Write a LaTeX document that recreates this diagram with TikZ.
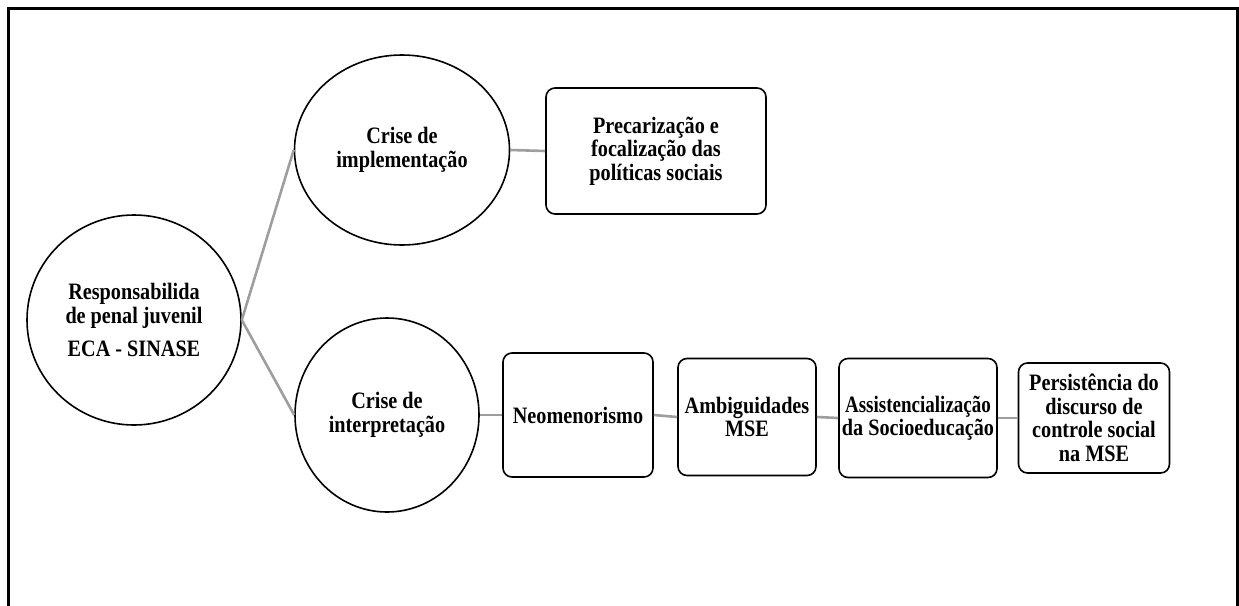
\documentclass[tikz,border=0pt]{standalone}
\usepackage{fontspec}
\setmainfont{Liberation Serif}[FakeStretch=0.86]
\usetikzlibrary{shapes.geometric}
\tikzset{
  bub/.style={ellipse, draw=black, line width=1.6pt, inner sep=0pt, align=center, font=\lbl},
  rbox/.style={rectangle, rounded corners=9pt, draw=black, line width=1.6pt, inner sep=0pt, align=center, font=\lbl},
  link/.style={draw=black!38, line width=2.6pt}
}
\newcommand{\lbl}{\bfseries\fontsize{23.5}{23.5}\selectfont}
\begin{document}
\begin{tikzpicture}[x=1pt,y=-1pt]
\useasboundingbox (0,0) rectangle (1239,605);
\draw[line width=3pt] (8,8) rectangle (1237,640);
\node[bub, minimum width=214pt, minimum height=210pt] (root) at (134,320)
  {Responsabilida\\de penal juvenil\\[10pt]ECA - SINASE};
\node[bub, minimum width=215pt, minimum height=190pt] (impl) at (402,150)
  {Crise de\\implementação};
\node[bub, minimum width=184pt, minimum height=194pt] (interp) at (387,415)
  {Crise de\\interpretação};
\node[rbox, minimum width=220pt, minimum height=126pt] (prec) at (656,151)
  {Precarização e\\focalização das\\políticas sociais};
\node[rbox, minimum width=150pt, minimum height=124pt] (neo) at (578,415)
  {Neomenorismo};
\node[rbox, minimum width=138pt, minimum height=117pt] (amb) at (747,417)
  {Ambiguidades\\MSE};
\node[rbox, minimum width=158pt, minimum height=119pt] (ass) at (918,418)
  {\addfontfeature{FakeStretch=0.81}Assistencialização\\da Socioeducação};
\node[rbox, minimum width=151pt, minimum height=110pt] (pers) at (1094,418)
  {Persistência do\\discurso de\\controle social\\na MSE};
\draw[link] (root.east) -- (impl.west);
\draw[link] (root.east) -- (interp.west);
\draw[link] (impl.east) -- (prec.west);
\draw[link] (interp.east) -- (neo.west);
\draw[link] (neo.east) -- (amb.west);
\draw[link] (amb.east) -- (ass.west);
\draw[link] (ass.east) -- (pers.west);
\end{tikzpicture}
\end{document}
